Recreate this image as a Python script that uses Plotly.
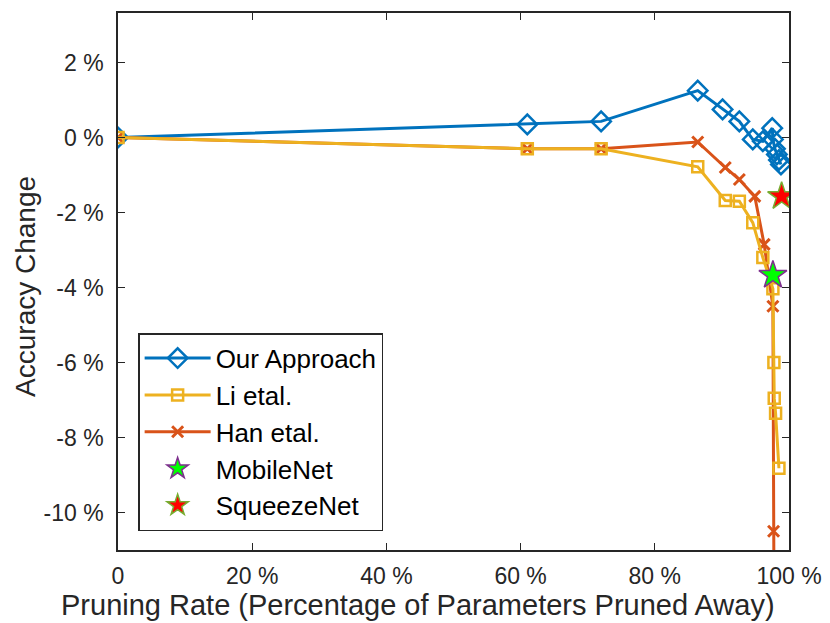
import plotly.graph_objects as go

# Data (pruning rate %, accuracy change %)
our_x = [0, 61, 72, 86.4, 90.1, 92.6, 94.6, 96.1, 97.5, 97.6, 97.9, 98.2, 98.5, 98.8]
our_y = [0, 0.35, 0.43, 1.25, 0.75, 0.43, -0.05, -0.1, 0.25, -0.05, -0.3, -0.45, -0.6, -0.72]

li_x = [0, 61, 72, 86.4, 90.5, 92.6, 94.6, 96.1, 97.6, 97.75, 97.8, 98.0, 98.5]
li_y = [0, -0.3, -0.3, -0.78, -1.68, -1.7, -2.27, -3.2, -4.03, -6.0, -6.95, -7.35, -8.82]

han_x = [0, 61, 72, 86.4, 90.5, 92.6, 94.9, 96.3, 97.6, 97.7, 97.8]
han_y = [0, -0.3, -0.3, -0.12, -0.8, -1.12, -1.57, -2.85, -4.5, -10.5, -14]

mobilenet_x = [97.6]
mobilenet_y = [-3.67]
squeezenet_x = [98.9]
squeezenet_y = [-1.57]

x_tickvals = [0, 20, 40, 60, 80, 100]
x_ticktext = ["0", "20 %", "40 %", "60 %", "80 %", "100 %"]
y_tickvals = [2, 0, -2, -4, -6, -8, -10]
y_ticktext = ["2 %", "0 %", "-2 %", "-4 %", "-6 %", "-8 %", "-10 %"]

x_title = "Pruning Rate (Percentage of Parameters Pruned Away)"
y_title = "Accuracy Change"

BLUE = "#0072BD"
ORANGE = "#D95319"
YELLOW = "#EDB120"
AX = "#262626"
FONT = "Liberation Sans, Arial, sans-serif"

fig = go.Figure()
fig.add_trace(go.Scatter(x=our_x, y=our_y, name="Our Approach", mode="lines+markers",
                         line=dict(color=BLUE, width=3),
                         marker=dict(symbol="diamond-open", size=15, color=BLUE, line=dict(width=2.5, color=BLUE)),
                         legendrank=1))
fig.add_trace(go.Scatter(x=han_x, y=han_y, name="Han etal.", mode="lines+markers",
                         line=dict(color=ORANGE, width=3),
                         marker=dict(symbol="x-thin-open", size=11, color=ORANGE, line=dict(width=3, color=ORANGE)),
                         legendrank=3))
fig.add_trace(go.Scatter(x=li_x, y=li_y, name="Li etal.", mode="lines+markers",
                         line=dict(color=YELLOW, width=3),
                         marker=dict(symbol="square-open", size=11, color=YELLOW, line=dict(width=2.5, color=YELLOW)),
                         legendrank=2))
fig.add_trace(go.Scatter(x=mobilenet_x, y=mobilenet_y, name="MobileNet", mode="markers",
                         marker=dict(symbol="star", size=21, color="#00FF00", line=dict(width=1.5, color="#7E2F8E")),
                         legendrank=4))
fig.add_trace(go.Scatter(x=squeezenet_x, y=squeezenet_y, name="SqueezeNet", mode="markers",
                         marker=dict(symbol="star", size=21, color="#FF0000", line=dict(width=1.5, color="#77AC30")),
                         legendrank=5))

axis_common = dict(showgrid=False, zeroline=False, showline=True, linecolor=AX, linewidth=1.5,
                   mirror="allticks", ticks="inside", ticklen=7, tickwidth=1.2, tickcolor=AX,
                   automargin=False,
                   tickfont=dict(family=FONT, size=23, color=AX))

fig.update_xaxes(range=[0, 100], tickvals=x_tickvals, ticktext=x_ticktext, ticklabelstandoff=5,
                 **axis_common)
fig.update_yaxes(range=[-11, 3.32], tickvals=y_tickvals, ticktext=y_ticktext, ticklabelstandoff=8,
                 **axis_common)

fig.add_annotation(text=x_title, xref="paper", yref="paper", x=0.447, y=-0.102,
                   xanchor="center", yanchor="middle", showarrow=False,
                   font=dict(family=FONT, size=29, color=AX))
fig.add_annotation(text=y_title, xref="paper", yref="paper", x=-0.137, y=0.49,
                   xanchor="center", yanchor="middle", showarrow=False, textangle=-90,
                   font=dict(family=FONT, size=28, color=AX))

fig.update_layout(
    width=822, height=615,
    margin=dict(l=110, r=41, t=5, b=73),
    paper_bgcolor="white", plot_bgcolor="white",
    legend=dict(x=0.03, y=0.035, xanchor="left", yanchor="bottom",
                bgcolor="white", bordercolor=AX, borderwidth=1.5,
                font=dict(family=FONT, size=26, color="black"),
                tracegroupgap=0, itemwidth=66),
    showlegend=True,
)

fig.write_html("out.html")
